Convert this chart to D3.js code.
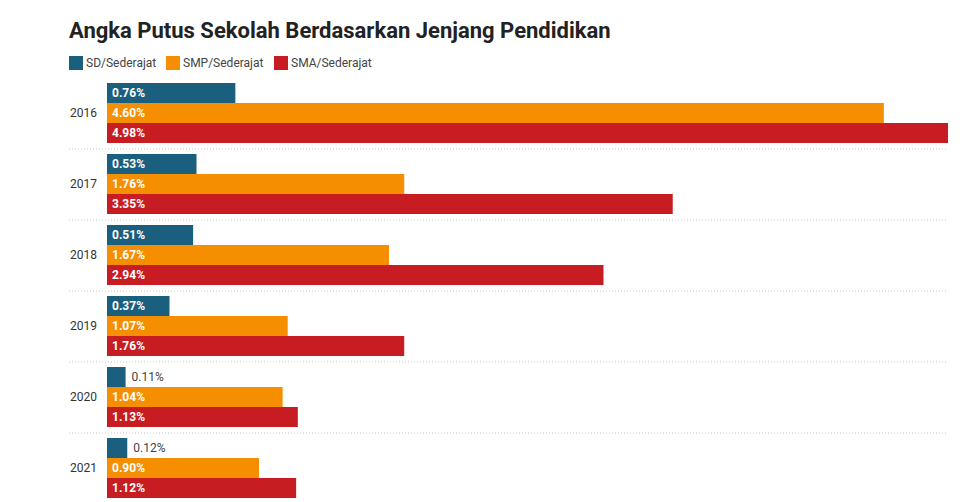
<!DOCTYPE html>
<html>
<head>
<meta charset="utf-8">
<script src="https://cdn.jsdelivr.net/npm/d3@7"></script>
<style>
  body { margin: 0; background: #fff; font-family: Roboto, "Noto Sans", sans-serif; }
  .yearLabel { font-size: 12px; fill: #333; }
  .legendText { font-size: 12px; fill: #444; }
  .inLabel { font-size: 12px; font-weight: bold; fill: #fff; }
  .outLabel { font-size: 12px; fill: #444; }
</style>
</head>
<body>
<div id="chart"></div>
<script>
// data
var years = ["2016", "2017", "2018", "2019", "2020", "2021"];
var levels = ["SD/Sederajat", "SMP/Sederajat", "SMA/Sederajat"];
var sdValues = [0.76, 0.53, 0.51, 0.37, 0.11, 0.12];
var smpValues = [4.60, 1.76, 1.67, 1.07, 1.04, 0.90];
var smaValues = [4.98, 3.35, 2.94, 1.76, 1.13, 1.12];
var colors = ["#1a5f7e", "#f68e01", "#c71d22"];

var svgWidth = 979;
var svgHeight = 502;

var svg = d3.select("#chart")
    .append("svg")
    .attr("width", svgWidth)
    .attr("height", svgHeight);

var rows = years.map(function(y, i) {
    return { year: y, values: [sdValues[i], smpValues[i], smaValues[i]] };
});

// scales
var xScale = d3.scaleLinear()
    .domain([0, d3.max(smaValues)])
    .range([107, 948]);

var pad = 11 / 71;
var yScale = d3.scaleBand()
    .domain(years)
    .range([77.5, 77.5 + 71 * years.length])
    .paddingInner(pad)
    .paddingOuter(pad / 2);

var subScale = d3.scaleBand()
    .domain(levels)
    .range([0, yScale.bandwidth()]);

// title
svg.append("text")
    .attr("x", 69)
    .attr("y", 38)
    .style("font-size", "22px")
    .style("font-weight", "bold")
    .style("fill", "#222")
    .text("Angka Putus Sekolah Berdasarkan Jenjang Pendidikan");

// legend
var legendX = [69, 166, 274];
var legend = svg.selectAll(".legend")
    .data(levels)
    .enter()
    .append("g")
    .attr("transform", (d, i) => `translate(${legendX[i]}, 56)`);

legend.append("rect")
    .attr("width", 14)
    .attr("height", 14)
    .attr("fill", (d, i) => colors[i]);

legend.append("text")
    .attr("class", "legendText")
    .attr("x", 17)
    .attr("y", 11)
    .text(d => d);

// dotted separators between groups
svg.selectAll(".sep")
    .data(years.slice(1))
    .enter()
    .append("line")
    .attr("x1", 69)
    .attr("x2", 948)
    .attr("y1", d => yScale(d) - yScale.step() * pad / 2 + 0.5)
    .attr("y2", d => yScale(d) - yScale.step() * pad / 2 + 0.5)
    .attr("stroke", "#c8c8c8")
    .attr("stroke-width", 1)
    .attr("stroke-dasharray", "1,2");

var groups = svg.selectAll(".group")
    .data(rows)
    .enter()
    .append("g")
    .attr("transform", d => `translate(0, ${yScale(d.year)})`);

groups.append("text")
    .attr("class", "yearLabel")
    .attr("x", 97)
    .attr("y", yScale.bandwidth() / 2)
    .attr("dy", "0.35em")
    .attr("text-anchor", "end")
    .text(d => d.year);

var bars = groups.selectAll(".bar")
    .data(d => d.values.map((v, i) => ({ key: levels[i], value: v, idx: i })))
    .enter();

bars.append("rect")
    .attr("x", xScale(0))
    .attr("y", d => subScale(d.key))
    .attr("width", d => xScale(d.value) - xScale(0))
    .attr("height", subScale.bandwidth())
    .attr("fill", d => colors[d.idx]);

bars.append("text")
    .attr("class", d => (xScale(d.value) - xScale(0) < 40) ? "outLabel" : "inLabel")
    .attr("x", d => (xScale(d.value) - xScale(0) < 40) ? xScale(d.value) + 6 : xScale(0) + 5)
    .attr("y", d => subScale(d.key) + subScale.bandwidth() / 2)
    .attr("dy", "0.35em")
    .text(d => d.value.toFixed(2) + "%");
</script>
</body>
</html>
